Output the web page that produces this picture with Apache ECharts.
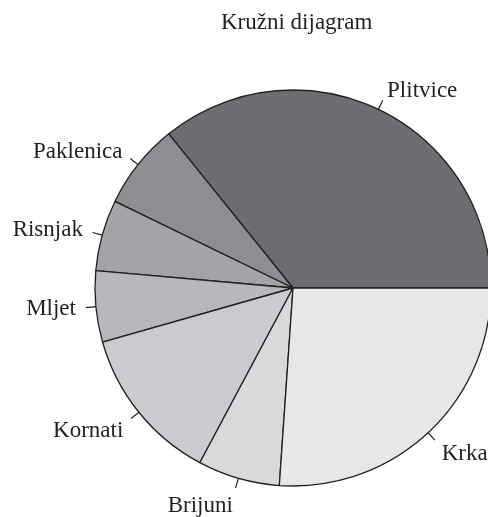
<!DOCTYPE html>
<html>
<head>
<meta charset="utf-8">
<title>Kružni dijagram</title>
<script src="https://cdn.jsdelivr.net/npm/echarts@6/dist/echarts.min.js"></script>
<style>
html, body { margin: 0; padding: 0; background: #fff; }
#chart { width: 488px; height: 517px; }
</style>
</head>
<body>
<div id="chart"></div>
<script>
// udjeli po parkovima (procitano s kruznog dijagrama, u %)
const parks = ['Plitvice', 'Paklenica', 'Risnjak', 'Mljet', 'Kornati', 'Brijuni', 'Krka']
const shares = [35.8, 7.0, 5.8, 5.8, 12.8, 6.7, 26.1]
const greys = ['#6c6d71', '#8d8e92', '#a3a4a8', '#b7b8bb', '#cacbce', '#d8d9db', '#e6e7e8']

const chart = echarts.init(document.getElementById('chart'), null, { renderer: 'canvas' })

const total = shares.reduce((a, b) => a + b, 0)
let cum = 0
const pieData = parks.map((name, i) => {
  // donji natpisi su u originalu malo nize
  const mid = (cum + shares[i] / 2) / total * 2 * Math.PI
  cum += shares[i]
  const drop = Math.max(0, -Math.sin(mid)) * 9
  return {
    name: name,
    value: shares[i],
    itemStyle: { color: greys[i] },
    label: { offset: [0, drop] }
  }
})

const option = {
  animation: false,
  backgroundColor: '#fff',
  title: {
    text: 'Kružni dijagram',
    left: 216,
    top: 6,
    textStyle: {
      fontFamily: 'Liberation Serif',
      fontSize: 23,
      fontWeight: 'normal',
      color: '#231f20'
    }
  },
  series: [
    {
      type: 'pie',
      center: [293, 288],
      radius: 198,
      startAngle: 0,
      clockwise: false,
      avoidLabelOverlap: false,
      silent: true,
      data: pieData,
      itemStyle: {
        borderColor: '#231f20',
        borderWidth: 1.3
      },
      label: {
        show: true,
        position: 'outside',
        formatter: '{b}',
        distanceToLabelLine: 0,
        fontFamily: 'Liberation Serif',
        fontSize: 23,
        color: '#231f20'
      },
      // linija ide do 1.1r, ali crtamo samo prvih 10px
      labelLine: {
        show: true,
        length: 20,
        length2: 0,
        smooth: false,
        lineStyle: {
          color: '#231f20',
          width: 1.2,
          type: [10, 1000]
        }
      },
      emphasis: { disabled: true }
    }
  ]
}

chart.setOption(option)
</script>
</body>
</html>
